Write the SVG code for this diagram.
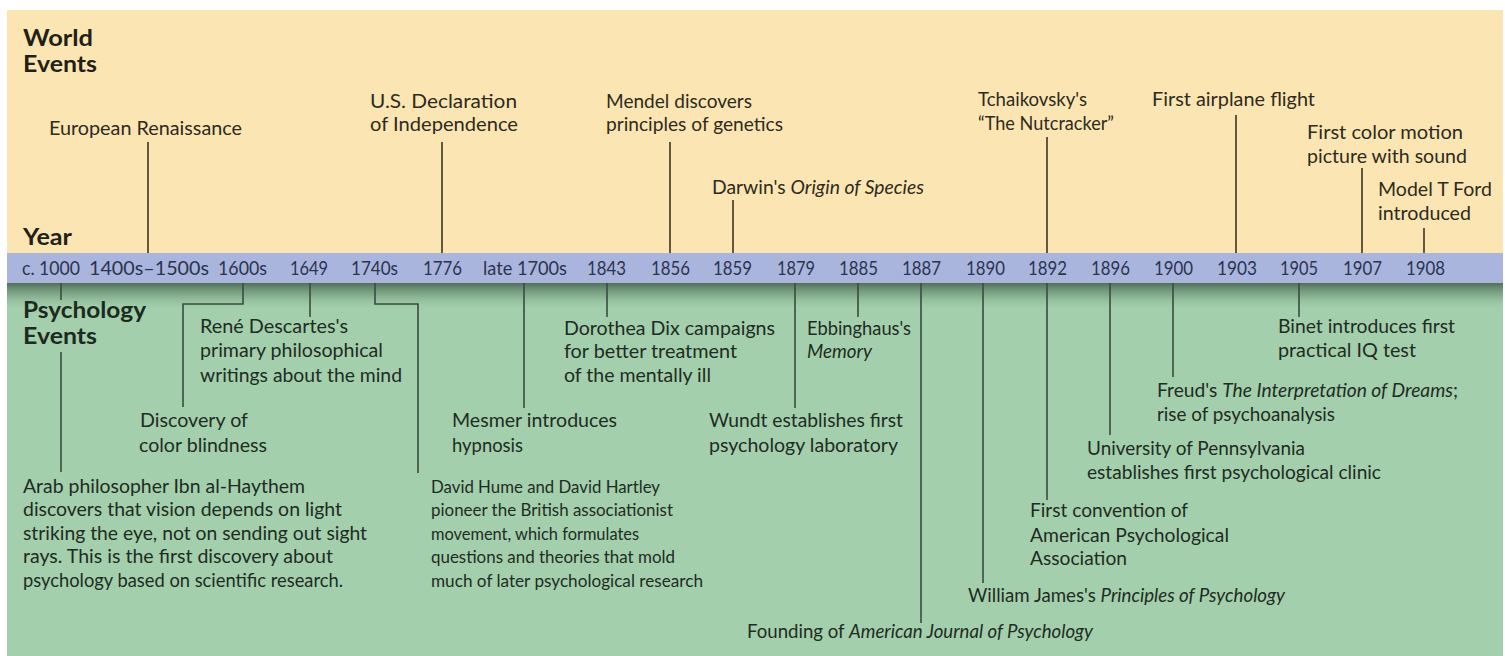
<svg xmlns="http://www.w3.org/2000/svg" width="1505" height="656" viewBox="0 0 1505 656">
<defs>
<linearGradient id="shadow" x1="0" y1="0" x2="0" y2="1">
<stop offset="0" stop-color="#4c6b54" stop-opacity="0.95"/>
<stop offset="0.45" stop-color="#6f9778" stop-opacity="0.6"/>
<stop offset="1" stop-color="#a3cfac" stop-opacity="0"/>
</linearGradient>
<style>
text{font-family:Lato,"Liberation Sans",sans-serif;font-size:18.5px}
.w{fill:#2e2a20}
.p{fill:#1f2c23}
.s{font-size:17.8px}
.y{fill:#2c3352;font-size:19px}
.h{font-weight:bold;font-size:23.5px;fill:#231f17}
.hp{font-weight:bold;font-size:23.5px;fill:#1c2a20}
.it{font-style:italic}
.wl{stroke:#3d3424;stroke-width:1.6;fill:none}
.pl{stroke:#3a4c3f;stroke-width:1.6;fill:none}
</style>
</defs>
<rect x="0" y="0" width="1505" height="656" fill="#ffffff"/>
<rect x="7" y="10" width="1496" height="243" fill="#fbe6b3"/>
<rect x="7" y="253" width="1496" height="30" fill="#a9b5dc"/>
<rect x="7" y="283" width="1496" height="373" fill="#a3cfac"/>
<rect x="7" y="283" width="1496" height="28" fill="url(#shadow)"/>

<g id="headers">
<text class="h" x="23" y="46" textLength="70" lengthAdjust="spacingAndGlyphs">World</text>
<text class="h" x="23" y="72" textLength="74" lengthAdjust="spacingAndGlyphs">Events</text>
<text class="h" x="23" y="245" textLength="49" lengthAdjust="spacingAndGlyphs">Year</text>
<text class="hp" x="23" y="318" textLength="123" lengthAdjust="spacingAndGlyphs">Psychology</text>
<text class="hp" x="23" y="344" textLength="74" lengthAdjust="spacingAndGlyphs">Events</text>
</g>

<g id="years">
<text class="y" x="22" y="275" textLength="58" lengthAdjust="spacingAndGlyphs">c. 1000</text>
<text class="y" x="89" y="275" textLength="120" lengthAdjust="spacingAndGlyphs">1400s–1500s</text>
<text class="y" x="218" y="275" textLength="49" lengthAdjust="spacingAndGlyphs">1600s</text>
<text class="y" x="290" y="275" textLength="38" lengthAdjust="spacingAndGlyphs">1649</text>
<text class="y" x="351" y="275" textLength="47" lengthAdjust="spacingAndGlyphs">1740s</text>
<text class="y" x="423" y="275" textLength="39" lengthAdjust="spacingAndGlyphs">1776</text>
<text class="y" x="483" y="275" textLength="84" lengthAdjust="spacingAndGlyphs">late 1700s</text>
<text class="y" x="587" y="275" textLength="39" lengthAdjust="spacingAndGlyphs">1843</text>
<text class="y" x="651" y="275" textLength="39" lengthAdjust="spacingAndGlyphs">1856</text>
<text class="y" x="713" y="275" textLength="39" lengthAdjust="spacingAndGlyphs">1859</text>
<text class="y" x="777" y="275" textLength="38" lengthAdjust="spacingAndGlyphs">1879</text>
<text class="y" x="839" y="275" textLength="39" lengthAdjust="spacingAndGlyphs">1885</text>
<text class="y" x="902" y="275" textLength="39" lengthAdjust="spacingAndGlyphs">1887</text>
<text class="y" x="966" y="275" textLength="39" lengthAdjust="spacingAndGlyphs">1890</text>
<text class="y" x="1028" y="275" textLength="39" lengthAdjust="spacingAndGlyphs">1892</text>
<text class="y" x="1091" y="275" textLength="39" lengthAdjust="spacingAndGlyphs">1896</text>
<text class="y" x="1154" y="275" textLength="39" lengthAdjust="spacingAndGlyphs">1900</text>
<text class="y" x="1217" y="275" textLength="40" lengthAdjust="spacingAndGlyphs">1903</text>
<text class="y" x="1280" y="275" textLength="38" lengthAdjust="spacingAndGlyphs">1905</text>
<text class="y" x="1343" y="275" textLength="39" lengthAdjust="spacingAndGlyphs">1907</text>
<text class="y" x="1406" y="275" textLength="39" lengthAdjust="spacingAndGlyphs">1908</text>
</g>

<g id="connectors">
<line class="wl" x1="148" y1="142" x2="148" y2="253"/>
<line class="wl" x1="442" y1="142" x2="442" y2="253"/>
<line class="wl" x1="670" y1="142" x2="670" y2="253"/>
<line class="wl" x1="733" y1="200" x2="733" y2="253"/>
<line class="wl" x1="1047" y1="137" x2="1047" y2="253"/>
<line class="wl" x1="1236" y1="115" x2="1236" y2="253"/>
<line class="wl" x1="1362" y1="168" x2="1362" y2="253"/>
<line class="wl" x1="1424" y1="228" x2="1424" y2="253"/>
<line class="pl" x1="61" y1="283" x2="61" y2="300"/>
<line class="pl" x1="61" y1="352" x2="61" y2="472"/>
<polyline class="pl" points="243,283 243,304 183,304 183,407"/>
<line class="pl" x1="310" y1="283" x2="310" y2="317"/>
<polyline class="pl" points="375,283 375,304 418,304 418,473"/>
<line class="pl" x1="524" y1="283" x2="524" y2="408"/>
<line class="pl" x1="607" y1="283" x2="607" y2="317"/>
<line class="pl" x1="795" y1="283" x2="795" y2="408"/>
<line class="pl" x1="858" y1="283" x2="858" y2="317"/>
<line class="pl" x1="921" y1="283" x2="921" y2="623"/>
<line class="pl" x1="983" y1="283" x2="983" y2="583"/>
<line class="pl" x1="1047" y1="283" x2="1047" y2="500"/>
<line class="pl" x1="1110" y1="283" x2="1110" y2="435"/>
<line class="pl" x1="1173" y1="283" x2="1173" y2="377"/>
<line class="pl" x1="1299" y1="283" x2="1299" y2="317"/>
</g>

<g id="w-renaissance"><text class="w" x="49" y="135" textLength="193" lengthAdjust="spacingAndGlyphs">European Renaissance</text></g>
<g id="w-declaration"><text class="w" x="370" y="108" textLength="147" lengthAdjust="spacingAndGlyphs">U.S. Declaration</text><text class="w" x="370" y="131" textLength="148" lengthAdjust="spacingAndGlyphs">of Independence</text></g>
<g id="w-mendel"><text class="w" x="606" y="108" textLength="146" lengthAdjust="spacingAndGlyphs">Mendel discovers</text><text class="w" x="606" y="131" textLength="177" lengthAdjust="spacingAndGlyphs">principles of genetics</text></g>
<g id="w-darwin"><text class="w" x="712" y="194" textLength="212" lengthAdjust="spacingAndGlyphs">Darwin's <tspan class="it">Origin of Species</tspan></text></g>
<g id="w-tchaikovsky"><text class="w" x="978" y="106" textLength="109" lengthAdjust="spacingAndGlyphs">Tchaikovsky's</text><text class="w" x="978" y="130" textLength="136" lengthAdjust="spacingAndGlyphs">“The Nutcracker”</text></g>
<g id="w-airplane"><text class="w" x="1152" y="106" textLength="163" lengthAdjust="spacingAndGlyphs">First airplane flight</text></g>
<g id="w-color"><text class="w" x="1307" y="139" textLength="156" lengthAdjust="spacingAndGlyphs">First color motion</text><text class="w" x="1307" y="163" textLength="160" lengthAdjust="spacingAndGlyphs">picture with sound</text></g>
<g id="w-modelt"><text class="w" x="1378" y="196" textLength="114" lengthAdjust="spacingAndGlyphs">Model T Ford</text><text class="w" x="1378" y="220" textLength="93" lengthAdjust="spacingAndGlyphs">introduced</text></g>

<g id="p-haythem">
<text class="p" x="23" y="493" textLength="282" lengthAdjust="spacingAndGlyphs">Arab philosopher Ibn al-Haythem</text>
<text class="p" x="23" y="516" textLength="319" lengthAdjust="spacingAndGlyphs">discovers that vision depends on light</text>
<text class="p" x="23" y="540" textLength="344" lengthAdjust="spacingAndGlyphs">striking the eye, not on sending out sight</text>
<text class="p" x="23" y="563" textLength="310" lengthAdjust="spacingAndGlyphs">rays. This is the first discovery about</text>
<text class="p" x="23" y="587" textLength="320" lengthAdjust="spacingAndGlyphs">psychology based on scientific research.</text>
</g>
<g id="p-colorblind"><text class="p" x="140" y="427" textLength="108" lengthAdjust="spacingAndGlyphs">Discovery of</text><text class="p" x="139" y="452" textLength="128" lengthAdjust="spacingAndGlyphs">color blindness</text></g>
<g id="p-descartes"><text class="p" x="200" y="333" textLength="148" lengthAdjust="spacingAndGlyphs">René Descartes's</text><text class="p" x="200" y="357" textLength="183" lengthAdjust="spacingAndGlyphs">primary philosophical</text><text class="p" x="200" y="382" textLength="202" lengthAdjust="spacingAndGlyphs">writings about the mind</text></g>
<g id="p-hume">
<text class="p s" x="431" y="493" textLength="229" lengthAdjust="spacingAndGlyphs">David Hume and David Hartley</text>
<text class="p s" x="431" y="516" textLength="242" lengthAdjust="spacingAndGlyphs">pioneer the British associationist</text>
<text class="p s" x="431" y="540" textLength="208" lengthAdjust="spacingAndGlyphs">movement, which formulates</text>
<text class="p s" x="431" y="563" textLength="244" lengthAdjust="spacingAndGlyphs">questions and theories that mold</text>
<text class="p s" x="431" y="587" textLength="272" lengthAdjust="spacingAndGlyphs">much of later psychological research</text>
</g>
<g id="p-mesmer"><text class="p" x="452" y="427" textLength="165" lengthAdjust="spacingAndGlyphs">Mesmer introduces</text><text class="p" x="452" y="452" textLength="71" lengthAdjust="spacingAndGlyphs">hypnosis</text></g>
<g id="p-dix"><text class="p" x="564" y="335" textLength="211" lengthAdjust="spacingAndGlyphs">Dorothea Dix campaigns</text><text class="p" x="564" y="358" textLength="173" lengthAdjust="spacingAndGlyphs">for better treatment</text><text class="p" x="564" y="382" textLength="147" lengthAdjust="spacingAndGlyphs">of the mentally ill</text></g>
<g id="p-wundt"><text class="p" x="709" y="427" textLength="194" lengthAdjust="spacingAndGlyphs">Wundt establishes first</text><text class="p" x="709" y="452" textLength="189" lengthAdjust="spacingAndGlyphs">psychology laboratory</text></g>
<g id="p-ebbinghaus"><text class="p" x="807" y="335" textLength="104" lengthAdjust="spacingAndGlyphs">Ebbinghaus's</text><text class="p it" x="807" y="358" textLength="65" lengthAdjust="spacingAndGlyphs">Memory</text></g>
<g id="p-ajp"><text class="p" x="747" y="638" textLength="346" lengthAdjust="spacingAndGlyphs">Founding of <tspan class="it">American Journal of Psychology</tspan></text></g>
<g id="p-james"><text class="p" x="968" y="602" textLength="317" lengthAdjust="spacingAndGlyphs">William James's <tspan class="it">Principles of Psychology</tspan></text></g>
<g id="p-apa"><text class="p" x="1030" y="517" textLength="158" lengthAdjust="spacingAndGlyphs">First convention of</text><text class="p" x="1030" y="542" textLength="199" lengthAdjust="spacingAndGlyphs">American Psychological</text><text class="p" x="1030" y="565" textLength="97" lengthAdjust="spacingAndGlyphs">Association</text></g>
<g id="p-penn"><text class="p" x="1087" y="455" textLength="218" lengthAdjust="spacingAndGlyphs">University of Pennsylvania</text><text class="p" x="1087" y="479" textLength="294" lengthAdjust="spacingAndGlyphs">establishes first psychological clinic</text></g>
<g id="p-freud"><text class="p" x="1157" y="397" textLength="301" lengthAdjust="spacingAndGlyphs">Freud's <tspan class="it">The Interpretation of Dreams</tspan>;</text><text class="p" x="1157" y="421" textLength="178" lengthAdjust="spacingAndGlyphs">rise of psychoanalysis</text></g>
<g id="p-binet"><text class="p" x="1278" y="333" textLength="177" lengthAdjust="spacingAndGlyphs">Binet introduces first</text><text class="p" x="1278" y="357" textLength="138" lengthAdjust="spacingAndGlyphs">practical IQ test</text></g>
</svg>
